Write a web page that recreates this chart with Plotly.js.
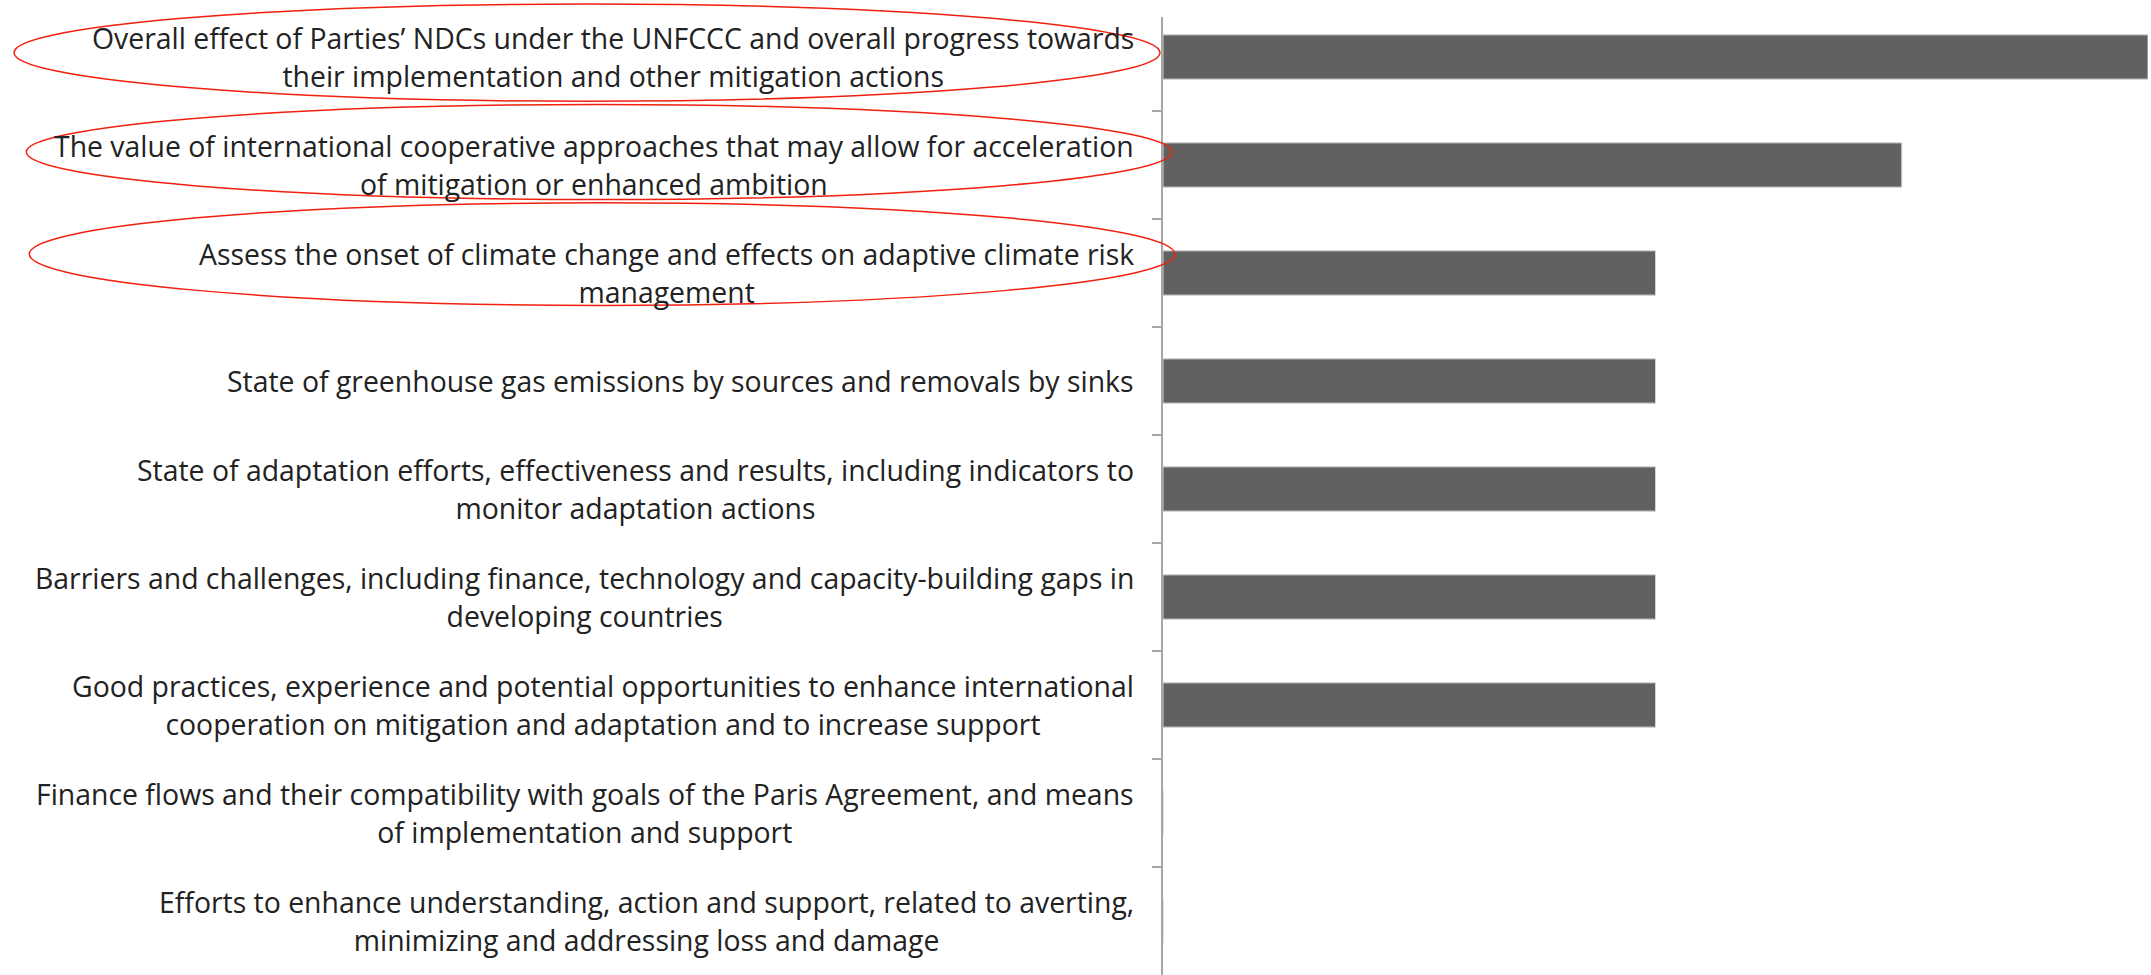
<!DOCTYPE html>
<html>
<head>
<meta charset="utf-8">
<script src="https://cdn.plot.ly/plotly-3.0.1.min.js"></script>
<style>html,body{margin:0;padding:0;background:#fff;}#chart{width:2151px;height:975px;}</style>
</head>
<body>
<div id="chart"></div>
<script>
const categories = [
  "Overall effect of Parties’ NDCs under the UNFCCC and overall progress towards their implementation and other mitigation actions",
  "The value of international cooperative approaches that may allow for acceleration of mitigation or enhanced ambition",
  "Assess the onset of climate change and effects on adaptive climate risk management",
  "State of greenhouse gas emissions by sources and removals by sinks",
  "State of adaptation efforts, effectiveness and results, including indicators to monitor adaptation actions",
  "Barriers and challenges, including finance, technology and capacity-building gaps in developing countries",
  "Good practices, experience and potential opportunities to enhance international cooperation on mitigation and adaptation and to increase support",
  "Finance flows and their compatibility with goals of the Paris Agreement, and means of implementation and support",
  "Efforts to enhance understanding, action and support, related to averting, minimizing and addressing loss and damage"
];
const tickLabels = [
  "Overall effect of Parties’ NDCs under the UNFCCC and overall progress towards<br>their implementation and other mitigation actions",
  "The value of international cooperative approaches that may allow for acceleration<br>of mitigation or enhanced ambition",
  "Assess the onset of climate change and effects on adaptive climate risk<br>management",
  "State of greenhouse gas emissions by sources and removals by sinks",
  "State of adaptation efforts, effectiveness and results, including indicators to<br>monitor adaptation actions",
  "Barriers and challenges, including finance, technology and capacity-building gaps in<br>developing countries",
  "Good practices, experience and potential opportunities to enhance international<br>cooperation on mitigation and adaptation and to increase support",
  "Finance flows and their compatibility with goals of the Paris Agreement, and means<br>of implementation and support",
  "Efforts to enhance understanding, action and support, related to averting,<br>minimizing and addressing loss and damage"
];
const values = [4, 3, 2, 2, 2, 2, 2, 0, 0];
const highlighted = [0, 1, 2];

const labelFont = "Open Sans, sans-serif";
const labelSize = 28.4;
const lineSize = 29;

const annotations = categories.map((c, i) => ({
  xref: "paper", yref: "y", x: 0, y: c,
  xanchor: "right", yanchor: "middle", align: "center",
  xshift: -27, showarrow: false,
  text: tickLabels[i].split("<br>").map(s => '<span style="font-size:' + labelSize + 'px">' + s + '</span>').join("<br>"),
  font: {family: labelFont, size: lineSize, color: "#222"}
}));

// red ellipses around highlighted labels (x in paper units, y in category index units)
const ellipseX = [[-1.1665, -0.003], [-1.154, 0.009], [-1.151, 0.012]];
const ellipseY = [[-0.49, 0.41], [0.44, 1.32], [1.35, 2.30]];
const shapes = highlighted.map((k, j) => ({
  type: "circle", xref: "paper", yref: "y",
  x0: ellipseX[j][0], x1: ellipseX[j][1], y0: ellipseY[j][0], y1: ellipseY[j][1],
  line: {color: "#f2200f", width: 1.5}, fillcolor: "rgba(0,0,0,0)", layer: "above"
}));
shapes.push({type: "rect", xref: "paper", yref: "paper", x0: -0.012, x1: 0.004, y0: 1 - 14/972, y1: 1.01,
  line: {width: 0}, fillcolor: "#fff", layer: "above"});

const trace = {
  type: "bar", orientation: "h", x: values, y: categories,
  width: 0.41,
  marker: {color: "#616161", line: {color: "#d4d4d4", width: 1}},
  hoverinfo: "skip"
};

const layout = {
  width: 2151, height: 975,
  margin: {l: 1163, r: 3, t: 3, b: 0, pad: 0},
  paper_bgcolor: "#fff", plot_bgcolor: "#fff",
  showlegend: false,
  xaxis: {range: [0, 4], showgrid: false, zeroline: false, showline: false, showticklabels: false, ticks: ""},
  yaxis: {type: "category", categoryorder: "array", categoryarray: categories,
    range: [8.5, -0.5], showgrid: false, zeroline: false,
    showline: true, linecolor: "#a6a6a6", linewidth: 2,
    ticks: "outside", tickson: "boundaries", ticklen: 9, tickwidth: 2, tickcolor: "#a6a6a6",
    showticklabels: false},
  annotations: annotations,
  shapes: shapes
};

Plotly.newPlot("chart", [trace], layout, {displayModeBar: false, staticPlot: true});
</script>
</body>
</html>
